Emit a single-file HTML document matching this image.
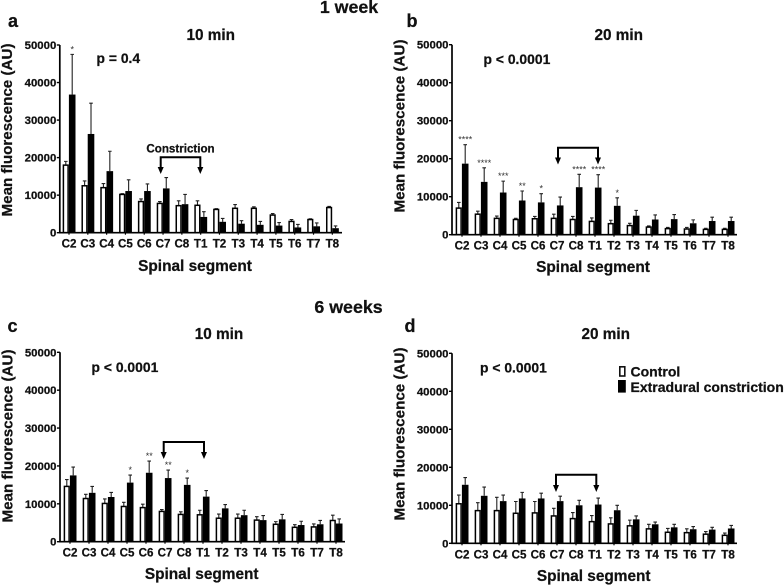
<!DOCTYPE html>
<html lang="en">
<head>
<meta charset="utf-8">
<title>Mean fluorescence by spinal segment</title>
<style>
html,body{margin:0;padding:0;background:#fff;width:784px;height:585px;overflow:hidden}
svg{display:block;font-family:"Liberation Sans",Arial,sans-serif;font-weight:bold;fill:#111;filter:blur(.35px)}
text{stroke:#111;stroke-width:.25px}
text.star{stroke:none;stroke-width:0;fill:#333;font-weight:normal}
</style>
</head>
<body>
<svg id="figure" width="784" height="585" viewBox="0 0 784 585" xmlns="http://www.w3.org/2000/svg">
  <text x="349" y="13" font-size="17.8" text-anchor="middle">1 week</text>
  <text x="348.5" y="313" font-size="17.8" text-anchor="middle">6 weeks</text>
  <g>
    <rect x="619.8" y="366.8" width="5" height="9.2" fill="#fff" stroke="#111" stroke-width="1.6"/>
    <text x="630.5" y="376.5" font-size="14">Control</text>
    <rect x="618" y="380" width="7.8" height="12.6" fill="#000"/>
    <text x="630.5" y="392" font-size="14">Extradural constriction</text>
  </g>
</svg>
<script>
const categories = ['C2','C3','C4','C5','C6','C7','C8','T1','T2','T3','T4','T5','T6','T7','T8'];
const tickValues = [0,10000,20000,30000,40000,50000];

const aControl = [18000,12500,12000,10200,8300,7800,7200,7300,6200,6500,6500,4700,3000,3500,6700];
const aControlTop = [19000,13800,13100,10400,9000,8300,8500,8500,6400,7500,6900,5100,3500,3700,7000];
const aExtradural = [36800,26300,16400,11100,11100,11800,7600,4200,2900,2400,2100,1900,1400,1700,1200];
const aExtraduralTop = [47500,34500,21700,14100,13000,14700,10200,5600,3800,3200,3000,2700,2200,2600,1800];
const aStars = ['*','','','','','','','','','','','','','',''];

const bControl = [7000,5400,4300,4000,4200,4300,4000,3500,2900,2400,2000,1600,1500,1400,1400];
const bControlTop = [8500,6200,4900,4300,4800,5400,4800,4400,3800,3000,2300,1900,1900,1700,1700];
const bExtradural = [18700,13900,11100,9000,8500,7700,12500,12400,7600,5000,4000,4100,3000,3600,3600];
const bExtraduralTop = [23700,17600,14100,11500,10800,9900,15900,15800,9700,6400,5200,5300,3900,4600,4600];
const bStars = ['****','****','***','**','*','','****','****','*','','','','','',''];

const cControl = [14600,11400,10100,9300,9000,8000,7200,7100,6200,6200,5700,4600,3800,3900,5600];
const cControlTop = [16400,12500,11300,10400,9900,8500,7900,8300,7300,7300,6600,5300,4500,4700,7000];
const cExtradural = [17500,12900,11800,15600,18200,16800,15000,11900,8800,7000,5700,5900,4400,4600,4800];
const cExtraduralTop = [19700,14600,13000,17600,21300,18900,16800,13500,9800,8300,6900,7200,5400,5600,6000];
const cStars = ['','','','*','**','**','*','','','','','','','',''];

const dControl = [10400,8600,8600,7900,8000,7200,6500,5700,5100,4600,3800,2900,2800,2400,2100];
const dControlTop = [12700,10700,12100,11000,11000,9200,8100,7300,6700,6100,5000,3900,3800,3100,2700];
const dExtradural = [15400,12500,11100,11800,11800,11100,10000,10200,8700,6300,5000,4200,3700,3600,3900];
const dExtraduralTop = [17300,14800,12700,13400,13200,12400,11300,11900,10000,7200,5600,5000,4400,4200,4700];
const dStars = ['','','','','','','','','','','','','','',''];

const NS = 'http://www.w3.org/2000/svg';
const root = document.getElementById('figure');

function mk(tag, parent) {
  const el = document.createElementNS(NS, tag);
  parent.appendChild(el);
  return el;
}
function setAll(el, pairs) {
  for (let i = 0; i < pairs.length; i += 2) el.setAttribute(pairs[i], pairs[i + 1]);
}
function label(parent, str, x, y, size, anchor) {
  const t = mk('text', parent);
  setAll(t, ['x', x, 'y', y, 'font-size', size, 'text-anchor', anchor]);
  t.textContent = str;
  return t;
}

function drawPanel(id, cfg, control, controlTop, ext, extTop, stars) {
  const g = mk('g', root);
  
  

  const yScale = v => cfg.bottom - (v / 50000) * (cfg.bottom - cfg.top);
  const xScale = i => cfg.first + i * cfg.step;

  // bars and error bars
  categories.forEach((cat, i) => {
    const c = xScale(i);

    const errC = mk('path', g);
    
    
    setAll(errC, ['d', `M${c - 3.2} ${yScale(control[i])}V${yScale(controlTop[i])}M${c - 5} ${yScale(controlTop[i])}H${c - 1.4}`, 'stroke', '#222', 'stroke-width', '1.1', 'fill', 'none']);

    const errE = mk('path', g);
    
    
    setAll(errE, ['d', `M${c + 3.2} ${yScale(ext[i])}V${yScale(extTop[i])}M${c + 1.4} ${yScale(extTop[i])}H${c + 5}`, 'stroke', '#222', 'stroke-width', '1.1', 'fill', 'none']);

    const barC = mk('rect', g);
    
    
    setAll(barC, ['x', c - 5.6, 'y', yScale(control[i]), 'width', 4.7, 'height', cfg.bottom - yScale(control[i]), 'fill', '#fff', 'stroke', '#000', 'stroke-width', '1.5']);

    const barE = mk('rect', g);
    
    
    setAll(barE, ['x', c - 0.1, 'y', yScale(ext[i]), 'width', 6.6, 'height', cfg.bottom - yScale(ext[i]), 'fill', '#000']);

    if (stars[i]) {
      const s = label(g, stars[i], c + 3.2, yScale(extTop[i]) - 2, 9, 'middle');
      s.setAttribute('class', 'star');
      
      
    }

    const tl = label(g, cat, c, cfg.bottom + 15, 11.6, 'middle');
    
    
  });

  // axes
  const axes = mk('path', g);
  
  
  setAll(axes, ['d', `M${cfg.axisX} ${cfg.top}V${cfg.bottom}H${cfg.axisEnd}`, 'stroke', '#000', 'stroke-width', '1.7', 'fill', 'none']);

  tickValues.forEach(v => {
    const tick = mk('path', g);
    
    
    setAll(tick, ['d', `M${cfg.axisX - 3} ${yScale(v)}H${cfg.axisX}`, 'stroke', '#000', 'stroke-width', '1.4']);
    const tl = label(g, String(v), cfg.axisX - 3.5, yScale(v) + 4, 11.4, 'end');
    
    
  });
  categories.forEach((cat, i) => {
    const tick = mk('path', g);
    
    
    setAll(tick, ['d', `M${xScale(i)} ${cfg.bottom}v2`, 'stroke', '#000', 'stroke-width', '1.2']);
  });

  // titles
  const yTitle = label(g, 'Mean fluorescence (AU)', 0, 0, 15.2, 'middle');
  yTitle.setAttribute('transform', `translate(${cfg.yTitleX} ${cfg.yTitleY}) rotate(-90)`);
  
  

  const xTitle = label(g, 'Spinal segment', cfg.xTitleX, cfg.xTitleY, 15.4, 'middle');
  
  

  const title = label(g, cfg.title, cfg.titleX, cfg.titleY, 15.3, 'middle');
  
  

  const letter = label(g, id, cfg.letterX, cfg.letterY, 18, 'start');
  
  

  const p = label(g, cfg.p, cfg.pX, cfg.pY, 13.9, 'start');
  
  

  // constriction bracket
  const br = cfg.bracket;
  const bracket = mk('path', g);
  
  
  setAll(bracket, ['d', `M${br.x1} ${br.tip - 5}V${br.y}H${br.x2}V${br.tip - 5}`, 'stroke', '#000', 'stroke-width', '2', 'fill', 'none']);
  [br.x1, br.x2].forEach((ax, n) => {
    const head = mk('path', g);
    
    
    setAll(head, ['d', `M${ax - 3} ${br.tip - 7}H${ax + 3}L${ax} ${br.tip}Z`, 'fill', '#000']);
  });
  if (cfg.bracketLabel) {
    const bl = label(g, cfg.bracketLabel, (br.x1 + br.x2) / 2, br.y - 5, 11.6, 'middle');
    
    
  }
}

drawPanel('a', {
  top: 45, bottom: 232.7, axisX: 59.8, axisEnd: 342, first: 69, step: 18.81,
  yTitleX: 12, yTitleY: 130, xTitleX: 195, xTitleY: 271,
  title: '10 min', titleX: 210.7, titleY: 40, letterX: 8, letterY: 27,
  p: 'p = 0.4', pX: 96.5, pY: 63,
  bracket: { x1: 160.7, x2: 200.3, y: 157.3, tip: 174 }, bracketLabel: 'Constriction'
}, aControl, aControlTop, aExtradural, aExtraduralTop, aStars);

drawPanel('b', {
  top: 44.7, bottom: 234.7, axisX: 452, axisEnd: 737, first: 462, step: 19,
  yTitleX: 404.5, yTitleY: 126, xTitleX: 593, xTitleY: 272,
  title: '20 min', titleX: 618.7, titleY: 40, letterX: 406.5, letterY: 27,
  p: 'p < 0.0001', pX: 483.5, pY: 64,
  bracket: { x1: 558, x2: 598, y: 147.7, tip: 164.5 }
}, bControl, bControlTop, bExtradural, bExtraduralTop, bStars);

drawPanel('c', {
  top: 352.3, bottom: 541.7, axisX: 60, axisEnd: 345, first: 70, step: 19,
  yTitleX: 12.5, yTitleY: 436, xTitleX: 201.7, xTitleY: 579,
  title: '10 min', titleX: 219, titleY: 339, letterX: 7.5, letterY: 332,
  p: 'p < 0.0001', pX: 91.5, pY: 372,
  bracket: { x1: 163.7, x2: 204, y: 442, tip: 459 }
}, cControl, cControlTop, cExtradural, cExtraduralTop, cStars);

drawPanel('d', {
  top: 353.3, bottom: 543.3, axisX: 452, axisEnd: 737, first: 462, step: 19,
  yTitleX: 404.5, yTitleY: 434, xTitleX: 593.7, xTitleY: 581,
  title: '20 min', titleX: 605.7, titleY: 339, letterX: 404.5, letterY: 332,
  p: 'p < 0.0001', pX: 480, pY: 372.5,
  bracket: { x1: 556, x2: 596.3, y: 474.7, tip: 492 }
}, dControl, dControlTop, dExtradural, dExtraduralTop, dStars);
</script>
</body>
</html>
